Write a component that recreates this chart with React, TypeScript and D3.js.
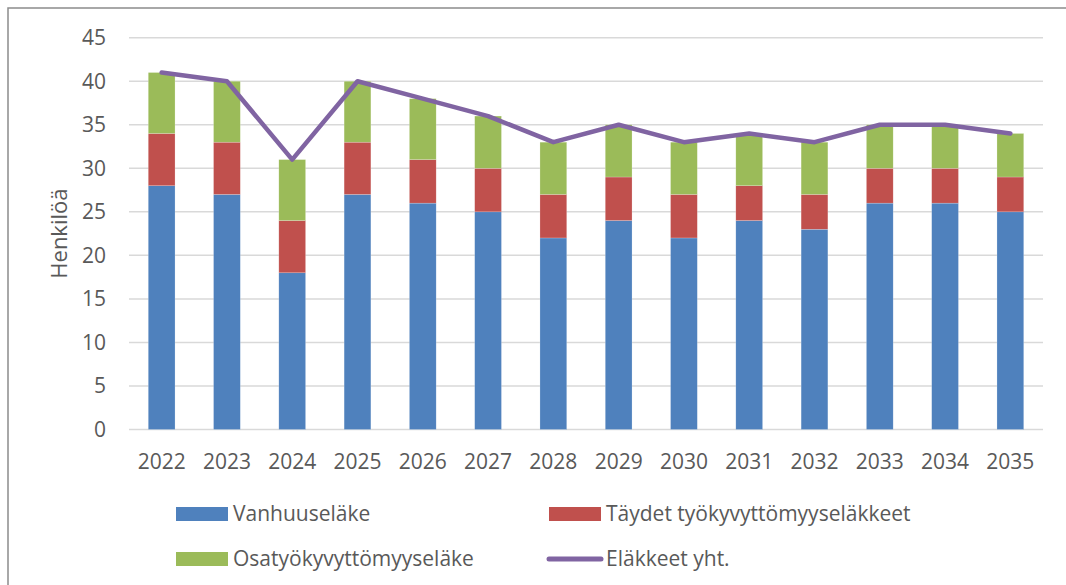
import React from "react";
import * as d3 from "d3";

// vuodet ja sarjat (luettu kuvasta)
const years = ["2022", "2023", "2024", "2025", "2026", "2027", "2028", "2029", "2030", "2031", "2032", "2033", "2034", "2035"];
const vanhuus = [28, 27, 18, 27, 26, 25, 22, 24, 22, 24, 23, 26, 26, 25];
const taydet = [6, 6, 6, 6, 5, 5, 5, 5, 5, 4, 4, 4, 4, 4];
const osa = [7, 7, 7, 7, 7, 6, 6, 6, 6, 6, 6, 5, 5, 5];
const yhteensa = [41, 40, 31, 40, 38, 36, 33, 35, 33, 34, 33, 35, 35, 34];
const yTicks = [0, 5, 10, 15, 20, 25, 30, 35, 40, 45];

const seriesNames = ["Vanhuuseläke", "Täydet työkyvyttömyyseläkkeet", "Osatyökyvyttömyyseläke", "Eläkkeet yht."];
const colors = ["#4F81BD", "#C0504D", "#9BBB59", "#8064A2"];

const W = 1066;
const H = 585;
const plot = { left: 129, right: 1043, top: 37.7, bottom: 429.5 };
const font = "'Open Sans', sans-serif";
const textColor = "#595959";

export default function App() {
  const x = d3.scaleBand().domain(years).range([plot.left, plot.right]).paddingInner(0.59).paddingOuter(0.295);
  const y = d3.scaleLinear().domain([0, 45]).range([plot.bottom, plot.top]);

  const rows = years.map((yr, i) => ({ year: yr, v: vanhuus[i], t: taydet[i], o: osa[i] }));
  const stacked = d3.stack<any>().keys(["v", "t", "o"])(rows);

  const line = d3
    .line<number>()
    .x((_, i) => (x(years[i]) as number) + x.bandwidth() / 2)
    .y((d) => y(d));

  return (
    <svg width={W} height={H} style={{ position: "absolute", left: 0, top: 0, background: "#fff" }} fontFamily={font}>
      <rect x={8} y={8} width={W + 10} height={H + 10} fill="#fff" stroke="#8c8c8c" strokeWidth={1.5} />

      {/* ruudukko */}
      {yTicks.map((t) => (
        <g key={t}>
          <line x1={plot.left} x2={plot.right} y1={y(t)} y2={y(t)} stroke="#d9d9d9" strokeWidth={1.5} />
          <text x={106} y={y(t) + 7.5} textAnchor="end" fontSize={21} fill={textColor}>
            {t}
          </text>
        </g>
      ))}

      {/* pylväät */}
      {stacked.map((layer, si) =>
        layer.map((d, i) => (
          <rect
            key={si + "-" + i}
            x={x(years[i])}
            y={y(d[1])}
            width={x.bandwidth()}
            height={y(d[0]) - y(d[1])}
            fill={colors[si]}
            stroke="#ffffff"
            strokeOpacity={0.4}
            strokeWidth={0.5}
          />
        ))
      )}

      <path d={line(yhteensa) || ""} fill="none" stroke={colors[3]} strokeWidth={4.5} strokeLinecap="round" strokeLinejoin="round" />

      {/* x-akselin nimikkeet */}
      {years.map((yr) => (
        <text key={yr} x={(x(yr) as number) + x.bandwidth() / 2} y={469} textAnchor="middle" fontSize={21} fill={textColor}>
          {yr}
        </text>
      ))}

      <text transform={`translate(67,${(plot.top + plot.bottom) / 2}) rotate(-90)`} textAnchor="middle" fontSize={22} fill={textColor}>
        Henkilöä
      </text>

      {/* selite */}
      {[
        { i: 0, sx: 176, ty: 521 },
        { i: 1, sx: 549, ty: 521 },
        { i: 2, sx: 176, ty: 566 },
        { i: 3, sx: 549, ty: 566 },
      ].map(({ i, sx, ty }) => (
        <g key={i}>
          {i === 3 ? (
            <line x1={sx} x2={sx + 52} y1={ty - 7} y2={ty - 7} stroke={colors[i]} strokeWidth={5} strokeLinecap="round" />
          ) : (
            <rect x={sx} y={ty - 14} width={52} height={14} fill={colors[i]} />
          )}
          <text x={sx + 57} y={ty} fontSize={21} fill={textColor}>
            {seriesNames[i]}
          </text>
        </g>
      ))}
    </svg>
  );
}
